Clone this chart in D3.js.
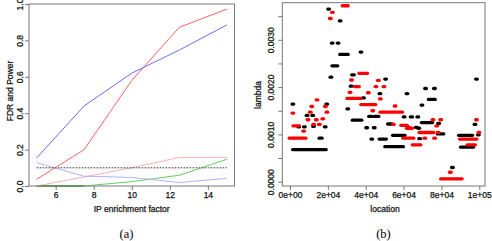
<!DOCTYPE html>
<html><head><meta charset="utf-8">
<script src="https://cdn.jsdelivr.net/npm/d3@7"></script>
<style>body{margin:0;background:#fff}svg{display:block}</style>
</head><body>
<svg id="c" width="492" height="241"></svg>
<script>
// ---------- Panel (a) data ----------
const enrichment = [5, 7.5, 10, 12.5, 15];
const powerBlue = [0.154, 0.44, 0.62, 0.747, 0.885];
const powerRed  = [0.037, 0.20, 0.58, 0.872, 0.972];
const fdrBlue   = [0.128, 0.054, 0.047, 0.019, 0.042];
const fdrRed    = [0.0, 0.05, 0.10, 0.157, 0.157];
const greenLine = [0.0, 0.0, 0.024, 0.059, 0.147];
const greenBase = [0.0, 0.0, null, null, null];
const fdrLevel  = 0.1;
const xTicksA = [6, 8, 10, 12, 14];
const yTicksA = [0, 0.2, 0.4, 0.6, 0.8, 1.0];

// ---------- Panel (b) data: runs [startLocation, endLocation, lambda] ----------
const blackRuns = [
  [20400,20400,0.00365],[26500,26500,0.00340],[22300,22300,0.00293],[25400,25400,0.00293],
  [26700,30300,0.00269],[37500,37500,0.00274],[22600,24800,0.00245],[21600,21600,0.00221],
  [33000,33500,0.00226],[50500,50500,0.00217],[32300,32300,0.00202],[71600,71600,0.00197],
  [76300,76300,0.00197],[98500,98500,0.00217],[47500,47500,0.00186],[61800,61800,0.00186],
  [38800,38800,0.00177],[73500,76300,0.00174],[69700,69700,0.00162],[30500,30500,0.00154],
  [1500,1500,0.00164],[19400,19400,0.00164],[9000,9000,0.00140],[12000,12000,0.00140],
  [4600,4600,0.00116],[7600,7600,0.00116],[12400,12400,0.00117],[18600,18600,0.00116],
  [15800,16500,0.00092],[1800,5000,0.00068],[6000,9500,0.00068],[10500,14000,0.00068],
  [14800,18700,0.00068],[33300,37500,0.00130],[42000,42800,0.00138],[44800,46500,0.00138],
  [40500,40500,0.00114],[44500,44500,0.00114],[52000,53500,0.00122],[60300,60300,0.00137],
  [64000,64300,0.00137],[67500,67500,0.00137],[62500,62500,0.00115],[66700,66700,0.00115],
  [43200,43200,0.00090],[47500,50500,0.00090],[54600,60300,0.00098],[50500,59500,0.00074],
  [68500,68500,0.00091],[69800,74900,0.00125],[78500,78500,0.00123],[68000,68000,0.00113],
  [78200,80800,0.00101],[85800,85800,0.00030],[89500,96000,0.00098],[97700,97700,0.00121],
  [99500,99500,0.00099],[90500,96500,0.00073]
];
const redRuns = [
  [28000,30300,0.00372],[22400,22400,0.00358],[21300,21300,0.00345],[36800,40500,0.00229],
  [32500,32500,0.00215],[46700,46700,0.00214],[34500,36200,0.00201],[45400,45400,0.00201],
  [49600,49600,0.00201],[31700,31700,0.00189],[41400,41400,0.00188],[30500,37000,0.00176],
  [47700,47700,0.00175],[37800,44900,0.00163],[55500,55500,0.00160],[43700,43700,0.00150],
  [48000,59000,0.00147],[1500,1500,0.00145],[11500,11500,0.00159],[18700,18700,0.00159],
  [14300,14300,0.00173],[10700,10700,0.00147],[19500,19500,0.00147],[9500,9500,0.00131],
  [13900,13900,0.00131],[17300,17300,0.00133],[2000,4600,0.00118],[12500,12500,0.00121],
  [15500,15500,0.00121],[7200,7200,0.00107],[0,1500,0.00092],[2700,8000,0.00092],
  [54600,54600,0.00121],[59000,61600,0.00119],[60000,65000,0.00092],[65000,68700,0.00078],
  [62000,64300,0.00113],[75500,75500,0.00131],[79600,79600,0.00131],[68600,75500,0.00104],
  [78200,78200,0.00104],[71200,71200,0.00092],[76400,76400,0.00092],[77500,77500,0.00118],
  [84700,84700,0.00020],[80000,90500,0.00006],[98500,98500,0.00131],[99800,99800,0.00104],
  [90000,98300,0.00090],[94000,97500,0.00078]
];
const xTicksB = [0, 20000, 40000, 60000, 80000, 100000];
const xTickLabelsB = ["0e+00", "2e+04", "4e+04", "6e+04", "8e+04", "1e+05"];
const yTicksB = [0, 0.0005, 0.001, 0.0015, 0.002, 0.0025, 0.003, 0.0035];
const yTickLabelsB = {0: "0.0000", 0.001: "0.0010", 0.002: "0.0020", 0.003: "0.0030"};

// ---------- Drawing ----------
const svg = d3.select("#c");
const sans = "'Liberation Sans', Arial, Helvetica, sans-serif";
const serif = "'Liberation Serif', 'Times New Roman', serif";
const axisCol = "#777";
const textCol = "#111";

function styleText(sel, size) {
  sel.attr("fill", textCol).attr("font-family", sans).attr("font-size", size || 8.5)
    .attr("stroke", textCol).attr("stroke-width", 0.25);
  return sel;
}
function styleAxis(g) {
  g.select(".domain").remove();
  g.selectAll(".tick line").attr("stroke", axisCol);
  styleText(g.selectAll(".tick text"));
}

// Panel (a)
const xA = d3.scaleLinear().domain([4.6, 15.4]).range([29, 234.5]);
const yA = d3.scaleLinear().domain([0, 1]).range([186, 4]);
const gA = svg.append("g");

const axA_x = gA.append("g").attr("transform", "translate(0,186)")
  .call(d3.axisBottom(xA).tickValues(xTicksA).tickSize(4).tickSizeOuter(0).tickPadding(2).tickFormat(d3.format("d")));
styleAxis(axA_x);

const axA_y = gA.append("g").attr("transform", "translate(29,0)")
  .call(d3.axisLeft(yA).tickValues(yTicksA).tickSize(4).tickSizeOuter(0).tickFormat(d3.format(".1f")));
styleAxis(axA_y);
axA_y.selectAll(".tick text").attr("x", 0).attr("dy", 0).attr("text-anchor", "middle")
  .attr("transform", "translate(-6,0) rotate(-90)");

const lineA = d3.line().defined(d => d[1] !== null).x(d => xA(d[0])).y(d => yA(d[1]));
function series(vals, color, width, dash) {
  gA.append("path").datum(enrichment.map((x, i) => [x, vals[i]]))
    .attr("d", lineA).attr("fill", "none").attr("stroke", color)
    .attr("stroke-width", width).attr("stroke-dasharray", dash || null);
}
series(greenBase, "#1a8a1a", 1.3);
series(greenLine, "#50c850", 0.9);
series(fdrRed, "#ffa8a8", 0.9);
series(fdrBlue, "#a8a8ff", 0.9);
series(enrichment.map(() => fdrLevel), "#333", 1, "1.6,1.4");
series(powerRed, "#ff5050", 0.9);
series(powerBlue, "#5a5aff", 0.9);

gA.append("rect").attr("x", 29).attr("y", 4).attr("width", 205.5).attr("height", 182)
  .attr("fill", "none").attr("stroke", axisCol).attr("stroke-width", 1);

styleText(gA.append("text").attr("x", 131.7).attr("y", 212).attr("text-anchor", "middle"))
  .text("IP enrichment factor");
styleText(gA.append("text").attr("transform", "translate(12.5,91) rotate(-90)").attr("text-anchor", "middle"))
  .text("FDR and Power");
gA.append("text").attr("x", 126.5).attr("y", 238).attr("text-anchor", "middle")
  .attr("font-family", serif).attr("font-size", 12.5).attr("fill", "#000").text("(a)");

// Panel (b)
const xB = d3.scaleLinear().domain([-4070, 103010]).range([282.3, 485]);
const yB = d3.scaleLinear().domain([-0.000091, 0.003784]).range([186, 2.7]);
const gB = svg.append("g");

const axB_x = gB.append("g").attr("transform", "translate(0,186)")
  .call(d3.axisBottom(xB).tickValues(xTicksB).tickSize(4).tickSizeOuter(0).tickPadding(2)
    .tickFormat((d, i) => xTickLabelsB[i]));
styleAxis(axB_x);

const axB_y = gB.append("g").attr("transform", "translate(282.3,0)")
  .call(d3.axisLeft(yB).tickValues(yTicksB).tickSize(4).tickSizeOuter(0)
    .tickFormat(d => { const k = Object.keys(yTickLabelsB).find(v => Math.abs(+v - d) < 1e-9); return k !== undefined ? yTickLabelsB[k] : ""; }));
styleAxis(axB_y);
axB_y.selectAll(".tick text").attr("x", 0).attr("dy", 0).attr("text-anchor", "middle")
  .attr("transform", "translate(-8,0) rotate(-90)");

function runs(data, color) {
  gB.append("g").selectAll("line").data(data).join("line")
    .attr("x1", d => xB(d[0]) - 0.8).attr("x2", d => xB(d[1]) + 0.8)
    .attr("y1", d => yB(d[2])).attr("y2", d => yB(d[2]))
    .attr("stroke", color).attr("stroke-width", 3.3).attr("stroke-linecap", "round");
}
runs(blackRuns, "#000");
runs(redRuns, "#ff0000");

gB.append("rect").attr("x", 282.3).attr("y", 2.7).attr("width", 202.7).attr("height", 183.3)
  .attr("fill", "none").attr("stroke", axisCol).attr("stroke-width", 1);

styleText(gB.append("text").attr("x", 385).attr("y", 212).attr("text-anchor", "middle"))
  .text("location");
styleText(gB.append("text").attr("transform", "translate(261,95) rotate(-90)").attr("text-anchor", "middle"))
  .text("lambda");
gB.append("text").attr("x", 383.5).attr("y", 238).attr("text-anchor", "middle")
  .attr("font-family", serif).attr("font-size", 12.5).attr("fill", "#000").text("(b)");
</script>
</body></html>
